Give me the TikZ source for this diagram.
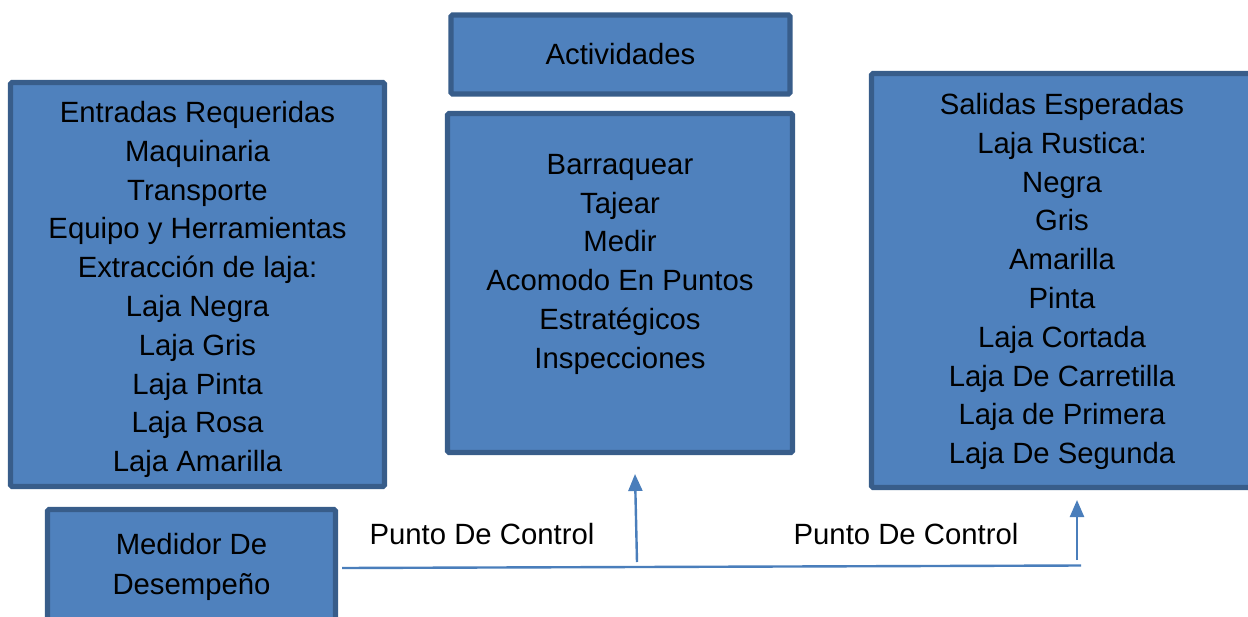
\documentclass[tikz,border=0pt]{standalone}
\usepackage{fontspec}
\setmainfont{Liberation Sans}
\usetikzlibrary{arrows.meta}
\definecolor{boxfill}{HTML}{4F81BD}
\definecolor{boxline}{HTML}{385D8A}
\definecolor{connline}{HTML}{4A7EBB}
\newcommand{\topgap}[1]{\rule{0pt}{#1}}
\tikzset{
  blockbox/.style={draw=boxline,fill=boxfill,line width=5.2pt,rounded corners=1.5pt,inner sep=0pt,outer sep=0pt,align=center,text=black,anchor=north west,font=\fontsize{29.3}{38.8}\selectfont},
  plainlabel/.style={inner sep=0pt,text=black,font=\fontsize{29.3}{38.8}\selectfont},
  conn/.style={draw=connline,line width=2.4pt},
  connarrow/.style={conn,-{Triangle[length=17pt,width=14pt]}}
}
\begin{document}
\begin{tikzpicture}[x=1pt,y=-1pt]
\useasboundingbox (0,0) rectangle (1248,616);
\node[blockbox,minimum width=339pt,minimum height=79pt] (act) at (451,15) {Actividades};
\node[blockbox,minimum width=345pt,minimum height=339pt] (proc) at (447.5,113.5) {Barraquear\\Tajear\\Medir\\Acomodo En Puntos\\Estratégicos\\Inspecciones\\[4.8pt]\mbox{}};
\node[blockbox,minimum width=374pt,minimum height=404pt] (inp) at (10.5,82.5) {\topgap{31.4pt}Entradas Requeridas\\Maquinaria\\Transporte\\Equipo y Herramientas\\Extracción de laja:\\Laja Negra\\Laja Gris\\Laja Pinta\\Laja Rosa\\Laja Amarilla};
\node[blockbox,minimum width=381pt,minimum height=414pt] (out) at (871.5,73.5) {\topgap{23.4pt}Salidas Esperadas\\Laja Rustica:\\Negra\\Gris\\Amarilla\\Pinta\\Laja Cortada\\Laja De Carretilla\\Laja de Primera\\Laja De Segunda};
\node[blockbox,minimum width=288pt,minimum height=120pt,font=\fontsize{29.3}{40}\selectfont] (med) at (47.5,509.5) {Medidor De\\Desempeño\\[-28pt]\mbox{}};
\node[plainlabel] (pc1) at (482,534) {Punto De Control};
\node[plainlabel] (pc2) at (906,534) {Punto De Control};
\coordinate (busL) at (342,568);
\coordinate (busR) at (1081,565.5);
\coordinate (a1s) at (637,562);
\coordinate (a1e) at (635,474);
\coordinate (a2s) at (1077,560);
\coordinate (a2e) at (1077,500);
\draw[conn] (busL) -- (busR);
\draw[connarrow] (a1s) -- (a1e);
\draw[connarrow] (a2s) -- (a2e);
\end{tikzpicture}
\end{document}
